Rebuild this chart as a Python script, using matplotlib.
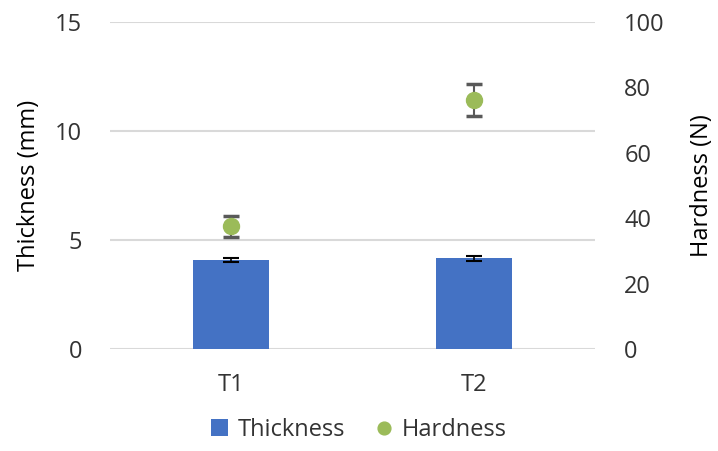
import matplotlib.pyplot as plt
import numpy as np

# data
samples = ['T1', 'T2']
thickness = [4.08, 4.16]
thickness_err = [0.11, 0.11]
hardness = [37.6, 76.1]
hardness_err = [3.2, 4.9]

plt.rcParams['font.family'] = ['Open Sans', 'DejaVu Sans']

fig = plt.figure(figsize=(7.18, 4.51), dpi=100)
ax = fig.add_axes([110/718, 1 - 349/451, 485/718, 327/451])
ax2 = ax.twinx()

x = np.arange(len(samples))
ax.bar(x, thickness, width=0.315, color='#4472C4', label='Thickness', zorder=2)
ax.errorbar(x, thickness, yerr=thickness_err, fmt='none', ecolor='black',
            elinewidth=1.2, capsize=6, capthick=1.5, zorder=3)

ax2.errorbar(x, hardness, yerr=hardness_err, fmt='none', ecolor='#595959',
             elinewidth=1.5, capsize=5.5, capthick=2.5, zorder=3)
ax2.plot(x, hardness, 'o', color='#9BBB59', markersize=11.5, label='Hardness', zorder=4)

ax.set_xlim(-0.5, 1.5)
ax.set_ylim(0, 15)
ax.set_yticks([0, 5, 10, 15])
ax2.set_ylim(0, 100)
ax2.set_yticks([0, 20, 40, 60, 80, 100])
ax.set_xticks(x)
ax.set_xticklabels(samples)

ax.grid(axis='y', color='#D9D9D9', linewidth=1.5, zorder=0)
ax.set_axisbelow(True)
for a in (ax, ax2):
    for s in a.spines.values():
        s.set_visible(False)
    a.tick_params(length=0, labelsize=17, colors='#333333')
ax.tick_params(axis='y', pad=20)
ax.tick_params(axis='x', pad=17)
ax2.tick_params(axis='y', pad=21)

ax.set_ylabel('Thickness (mm)', fontsize=17, color='black', labelpad=10)
ax2.set_ylabel('Hardness (N)', fontsize=17, color='black', labelpad=18)

h1, l1 = ax.get_legend_handles_labels()
h2, l2 = ax2.get_legend_handles_labels()
fig.legend(h1 + h2, l1 + l2, loc='center', bbox_to_anchor=(0.5, 1 - 430/451),
           ncol=2, frameon=False, fontsize=17, handlelength=0.7, handletextpad=0.4,
           columnspacing=1.3, labelcolor='#333333', markerscale=0.8)

fig.savefig('out.png', dpi=100)
